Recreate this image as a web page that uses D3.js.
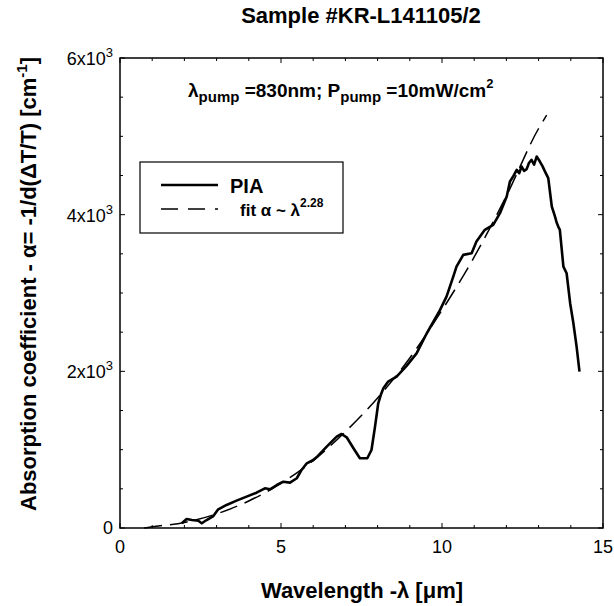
<!DOCTYPE html>
<html><head><meta charset="utf-8">
<script src="https://cdn.jsdelivr.net/npm/d3@7"></script>
<style>body{margin:0;background:#fff;} text{font-family:"Liberation Sans",Arial,Helvetica,sans-serif;fill:#000;}</style>
</head><body>
<svg id="c" width="614" height="606"></svg>
<script>
const piaLambda = [1.92,2.07,2.23,2.43,2.54,2.69,2.90,3.05,3.31,3.62,3.93,4.24,4.50,4.66,4.87,5.07,5.28,5.49,5.64,5.80,6.00,6.11,6.42,6.73,6.88,7.04,7.25,7.45,7.68,7.81,7.92,8.02,8.10,8.18,8.33,8.59,8.90,9.21,9.52,9.94,10.14,10.35,10.45,10.66,10.92,11.07,11.33,11.59,11.80,12.01,12.11,12.20,12.32,12.40,12.47,12.55,12.63,12.70,12.78,12.86,12.94,13.04,13.12,13.20,13.30,13.41,13.51,13.56,13.61,13.66,13.77,13.87,13.98,14.08,14.18,14.27];
const piaAlpha = [60,115,102,93,60,102,153,238,294,349,400,451,507,494,549,591,579,635,741,826,868,905,1038,1166,1200,1158,1018,890,890,996,1294,1592,1700,1784,1869,1932,2070,2230,2480,2784,2954,3210,3337,3487,3508,3657,3806,3870,4019,4232,4423,4480,4572,4530,4615,4560,4581,4660,4700,4640,4742,4678,4620,4550,4466,4104,3976,3900,3848,3806,3337,3252,2870,2614,2315,1996];
const fitLambda = [0.75,1,2,3,4,5,6,7,8,9,10,11,12,13,13.25];
const fitAlpha = [0,15,70,180,345,570,860,1230,1660,2170,2780,3460,4240,5100,5270];
const xTicks = [0,5,10,15];
const yTicks = [0,2000,4000,6000];
const yTickLabels = ["0","2x10","4x10","6x10"];

const svg = d3.select("#c");
const L=120,R=603,T=58,B=528;
const x = d3.scaleLinear().domain([0,15]).range([L,R]);
const y = d3.scaleLinear().domain([0,6000]).range([B,T]);

svg.append("rect").attr("x",L).attr("y",T).attr("width",R-L).attr("height",B-T)
  .attr("fill","none").attr("stroke","#000").attr("stroke-width",1.5);

const xMinor = d3.range(0,16,1), yMinor = d3.range(0,6001,500);
const tk = svg.append("g").attr("stroke","#000").attr("stroke-width",1);
xMinor.forEach(v=>{const len = v%5===0?5:3;
  tk.append("line").attr("x1",x(v)).attr("x2",x(v)).attr("y1",B).attr("y2",B-len);
  tk.append("line").attr("x1",x(v)).attr("x2",x(v)).attr("y1",T).attr("y2",T+len);});
yMinor.forEach(v=>{const len = v%2000===0?5:3;
  tk.append("line").attr("y1",y(v)).attr("y2",y(v)).attr("x1",L).attr("x2",L+len);
  tk.append("line").attr("y1",y(v)).attr("y2",y(v)).attr("x1",R).attr("x2",R-len);});

xTicks.forEach(v=>svg.append("text").attr("x",x(v)).attr("y",553).attr("text-anchor","middle")
  .attr("font-size",18).text(v));
yTicks.forEach((v,i)=>{
  const t = svg.append("text").attr("x",113).attr("y",y(v)+(i===0?6:7)).attr("text-anchor","end").attr("font-size",18);
  if(i===0){t.text(yTickLabels[i]);}
  else{t.append("tspan").text(yTickLabels[i]);
       t.append("tspan").attr("dy",-8).attr("font-size",13).text("3");}
});

const fitData = fitLambda.map((l,i)=>[l,fitAlpha[i]]);
svg.append("path").datum(fitData)
  .attr("d",d3.line().x(d=>x(d[0])).y(d=>y(d[1])).curve(d3.curveMonotoneX))
  .attr("fill","none").attr("stroke","#000").attr("stroke-width",1.5).attr("stroke-dasharray","18,8");

const piaData = piaLambda.map((l,i)=>[l,piaAlpha[i]]);
svg.append("path").datum(piaData)
  .attr("d",d3.line().x(d=>x(d[0])).y(d=>y(d[1])))
  .attr("fill","none").attr("stroke","#000").attr("stroke-width",2.6).attr("stroke-linejoin","round");

svg.append("rect").attr("x",140).attr("y",162).attr("width",203).attr("height",71)
  .attr("fill","#fff").attr("stroke","#000").attr("stroke-width",1.2);
svg.append("line").attr("x1",161).attr("x2",218).attr("y1",185).attr("y2",185).attr("stroke","#000").attr("stroke-width",2.6);
svg.append("text").attr("x",230).attr("y",193).attr("font-size",20).attr("font-weight","bold").text("PIA");
svg.append("line").attr("x1",161).attr("x2",218).attr("y1",209).attr("y2",209).attr("stroke","#000").attr("stroke-width",1.5).attr("stroke-dasharray","17,10");
const ft = svg.append("text").attr("x",240).attr("y",216).attr("font-size",17).attr("font-weight","bold");
ft.append("tspan").text("fit α ~ λ");
ft.append("tspan").attr("dy",-9).attr("font-size",12).text("2.28");

const an = svg.append("text").attr("x",188).attr("y",97).attr("font-size",19).attr("font-weight","bold");
an.append("tspan").text("λ");
an.append("tspan").attr("dy",5).attr("font-size",15).text("pump");
an.append("tspan").attr("dy",-5).text(" =830nm; P");
an.append("tspan").attr("dy",5).attr("font-size",15).text("pump");
an.append("tspan").attr("dy",-5).text(" =10mW/cm");
an.append("tspan").attr("dy",-9).attr("font-size",13).text("2");

svg.append("text").attr("x",361).attr("y",23).attr("text-anchor","middle").attr("font-size",22).attr("font-weight","bold").text("Sample #KR-L141105/2");
svg.append("text").attr("x",362).attr("y",598).attr("text-anchor","middle").attr("font-size",22).attr("font-weight","bold").text("Wavelength -λ [μm]");
const yl = svg.append("text").attr("transform","translate(36,284) rotate(-90)").attr("text-anchor","middle").attr("font-size",22).attr("font-weight","bold");
yl.append("tspan").text("Absorption coefficient - α= -1/d(ΔT/T) [cm");
yl.append("tspan").attr("dy",-9).attr("font-size",15).text("-1");
yl.append("tspan").attr("dy",9).text("]");
</script>
</body></html>
